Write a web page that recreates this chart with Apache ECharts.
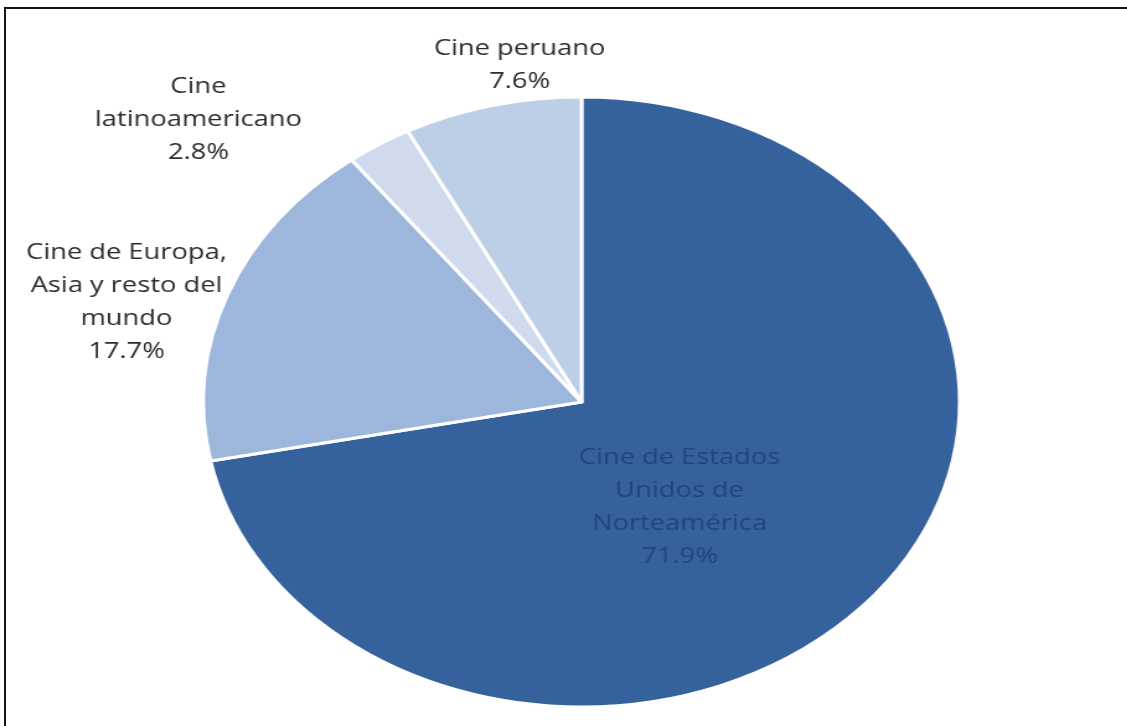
<!DOCTYPE html>
<html>
<head>
<meta charset="utf-8">
<script src="https://cdn.jsdelivr.net/npm/echarts@6/dist/echarts.min.js"></script>
<style>
  html, body { margin: 0; padding: 0; background: #fff; overflow: hidden; }
  #frame { position: absolute; left: 4px; top: 7px; width: 1140px; height: 740px;
           border-left: 2px solid #151515; border-top: 2px solid #151515; }
  /* the source picture is stretched sideways, so the chart is too */
  #main { position: absolute; left: 0; top: 0; width: 909px; height: 726px;
          transform: scaleX(1.24); transform-origin: 0 0; }
</style>
</head>
<body>
<div id="frame"></div>
<div id="main"></div>
<script>
  // categories and shares (%), clockwise from 12 o'clock
  const categories = [
    'Cine de Estados\nUnidos de\nNorteamérica',
    'Cine de Europa,\nAsia y resto del\nmundo',
    'Cine\nlatinoamericano',
    'Cine peruano'
  ];
  const shares = [71.9, 17.7, 2.8, 7.6];

  const colors = ['#35629d', '#9db7dc', '#cfdbed', '#bdcfe7'];
  const labelColors = ['#23457a', '#2b2b2b', '#2b2b2b', '#2b2b2b'];
  // label centres in chart pixels (before the sideways stretch)
  const labelPos = [[548, 507], [102, 302], [160, 120], [419, 65]];

  let myChart = echarts.init(document.getElementById('main'));

  myChart.setOption({
    animation: false,
    series: [{
      type: 'pie',
      center: [469, 402],
      radius: 305,
      startAngle: 90,
      clockwise: true,
      avoidLabelOverlap: false,
      itemStyle: {
        borderColor: '#ffffff',
        borderWidth: 3
      },
      label: {
        show: true,
        formatter: '{b}\n{c}%',
        fontFamily: 'Open Sans',
        fontSize: 22,
        lineHeight: 33,
        align: 'center'
      },
      labelLine: { show: false },
      labelLayout: function (params) {
        const p = labelPos[params.dataIndex];
        return { x: p[0], y: p[1], align: 'center', verticalAlign: 'middle' };
      },
      data: categories.map(function (name, i) {
        return {
          name: name,
          value: shares[i],
          itemStyle: { color: colors[i] },
          label: { color: labelColors[i] }
        };
      })
    }]
  });
</script>
</body>
</html>
